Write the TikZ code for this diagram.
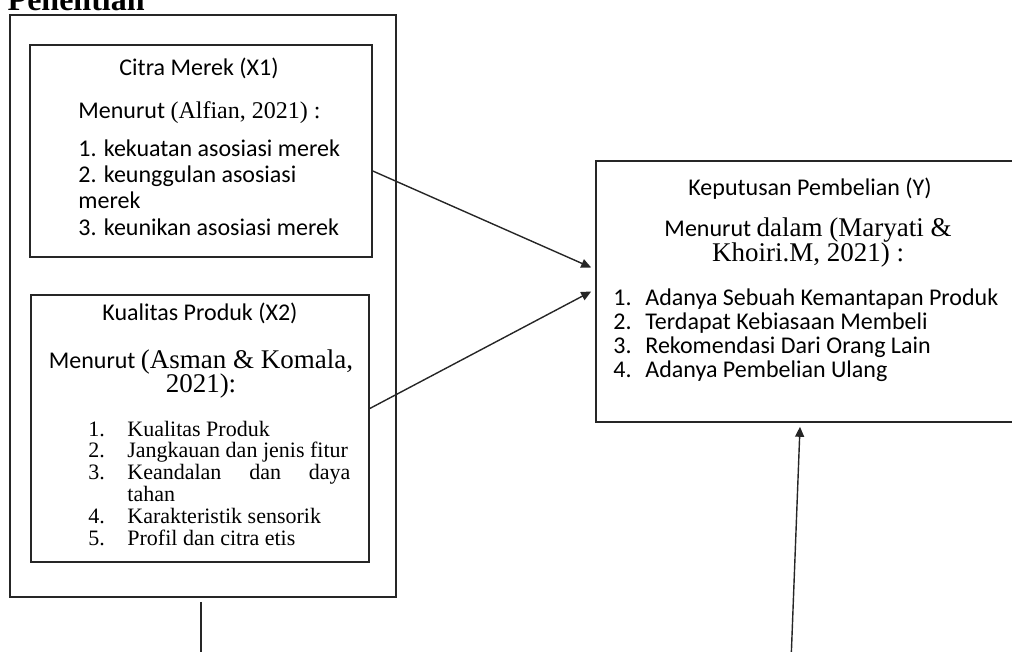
\documentclass[tikz,border=0pt]{standalone}
\usepackage{fontspec}
\setmainfont{Liberation Serif}
\newfontfamily\calibri{Carlito}
\usetikzlibrary{arrows.meta}
\tikzset{
box/.style={draw=black!85, line width=0.8pt, inner sep=0pt},
txt/.style={inner sep=0pt, font=\calibri\fontsize{12}{13.25}\selectfont},
link/.style={draw=black!85, line width=0.7pt, -{Triangle[length=5pt,width=4.5pt]}}
}
\newcommand{\tms}{\rmfamily\fontsize{13.5}{12.5}\selectfont}
\newcommand{\rapat}{\lineskiplimit-10pt\relax}
\newcommand{\butir}[1]{\makebox[16pt][l]{#1.}}
\newcommand{\butirb}[1]{\makebox[19.5pt][l]{#1.}}

\begin{document}
\begin{tikzpicture}[x=0.5pt, y=-0.5pt]
\useasboundingbox (0,0) rectangle (1012,652);
\clip (0,0) rectangle (1012,652);
\node[anchor=base east, inner sep=0pt, font=\bfseries\fontsize{16}{18}\selectfont] (judul) at (145,11) {Kerangka Penelitian};
% kotak
\node[box, minimum width=193pt, minimum height=291pt] (luar) at (203,306) {};
\node[box, minimum width=171pt, minimum height=106pt] (x1) at (201,151) {};
\node[box, minimum width=169pt, minimum height=133.5pt] (x2) at (200,428.5) {};
\node[box, minimum width=214pt, minimum height=130.5pt] (y) at (810,291.5) {};
% X1
\node[txt, anchor=base] (x1judul) at (199,76) {Citra Merek (X1)};
\node[txt, anchor=base west] (x1teori) at (78,119) {Menurut {\rmfamily\fontsize{12}{12}\selectfont (Alfian, 2021) :}};
\node[txt, anchor=base west, align=left] (x1ind) at (78,235.5) {1. kekuatan asosiasi merek\\2. keunggulan asosiasi\\merek\\3. keunikan asosiasi merek};
% X2
\node[txt, anchor=base] (x2judul) at (200,321) {Kualitas Produk (X2)};
\node[txt, anchor=base, align=center, font=\calibri\fontsize{12}{12.5}\selectfont\rapat] (x2teori) at (201,393) {Menurut {\tms (Asman \& Komala,}\\{\tms 2021):}};
\node[anchor=base west, inner sep=0pt, align=left, font=\fontsize{11}{10.9}\selectfont\rapat] (x2ind) at (88,545)
  {\butirb{1}Kualitas Produk\\\butirb{2}Jangkauan dan jenis fitur\\\butirb{3}\makebox[111.5pt][s]{Keandalan dan daya}\\\hspace*{19.5pt}tahan\\\butirb{4}Karakteristik sensorik\\\butirb{5}Profil dan citra etis};
% Y
\node[txt, anchor=base] (yjudul) at (810,196) {Keputusan Pembelian (Y)};
\node[txt, anchor=base, align=center, font=\calibri\fontsize{12}{12.5}\selectfont\rapat] (yteori) at (808,262) {Menurut {\tms dalam (Maryati \&}\\{\tms Khoiri.M, 2021) :}};
\node[txt, anchor=base west, align=left, font=\calibri\fontsize{12}{12.15}\selectfont] (yind) at (613,378)
  {\butir{1}Adanya Sebuah Kemantapan Produk\\\butir{2}Terdapat Kebiasaan Membeli\\\butir{3}Rekomendasi Dari Orang Lain\\\butir{4}Adanya Pembelian Ulang};
% garis
\coordinate (kiribawah) at (201,662);
\coordinate (kananbawah) at (791,662);
\draw[link] ([yshift=-10pt]x1.east) -- ([xshift=-2pt,yshift=12pt]y.west);
\draw[link] ([yshift=10pt]x2.east) -- ([xshift=-2pt]y.west);
\draw[draw=black!85, line width=0.7pt] ([xshift=-1pt,yshift=-2pt]luar.south) -- (kiribawah);
\draw[link] (kananbawah) -- ([xshift=-5pt,yshift=-2pt]y.south);
\end{tikzpicture}
\end{document}
